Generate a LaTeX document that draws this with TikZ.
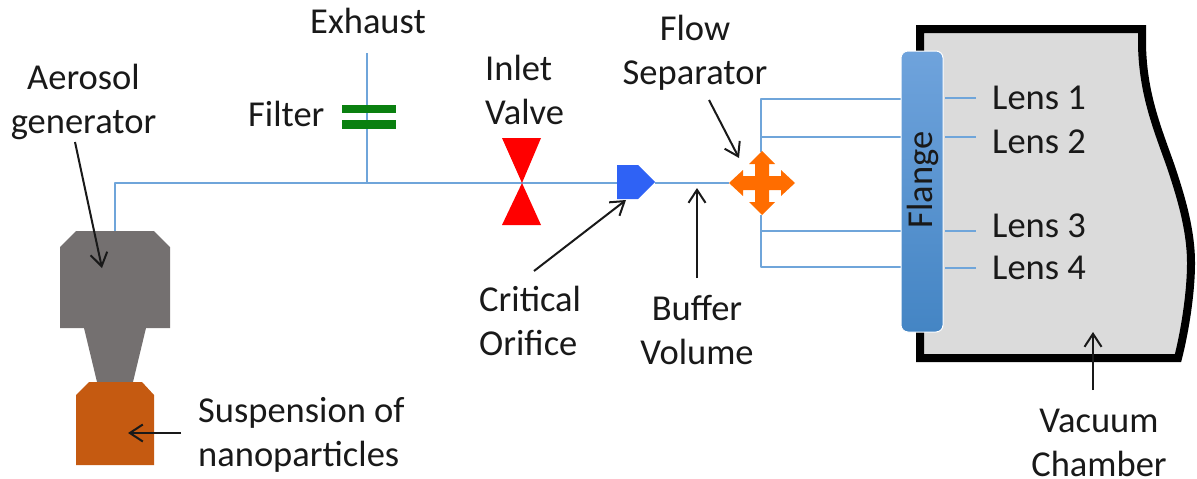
\documentclass[tikz,border=0pt]{standalone}
\usepackage{fontspec}
\setmainfont{Carlito}
\usetikzlibrary{arrows.meta,calc}
\definecolor{pipe}{HTML}{6FA5DA}
\definecolor{grayshape}{HTML}{747070}
\definecolor{brownshape}{HTML}{C55A11}
\definecolor{flangetop}{HTML}{6FA3DC}
\definecolor{flangebot}{HTML}{4485C4}
\definecolor{chamberfill}{HTML}{DBDBDB}
\definecolor{orificeblue}{HTML}{2F62F5}
\definecolor{sepcolor}{HTML}{FF6D00}
\definecolor{filtergreen}{HTML}{0A8010}
\tikzset{
  x=1pt,y=-1pt,
  label/.style={font=\fontsize{36.5}{44}\selectfont,text=black!90,inner sep=0pt,align=center},
  labelleft/.style={label,align=left},
  pipeline/.style={draw=pipe,line width=2.4pt,line join=round},
  pointer/.style={draw=black!90,line width=2pt,-{Straight Barb[length=13pt,width=17pt,line width=2pt]}},
}
\begin{document}
\begin{tikzpicture}
\useasboundingbox (0,0) rectangle (1197,479);
% chamber
\draw[line width=8pt,fill=chamberfill,miter limit=10]
  (920,29) -- (1142,29) -- (1142,45)
  .. controls (1143,95) and (1158,130) .. (1171,167)
  .. controls (1181,197) and (1191,230) .. (1191,263)
  .. controls (1191,295) and (1184,335) .. (1178,358)
  -- (920,358) -- cycle;
% coordinates
\coordinate (genTop) at (115,231);
\coordinate (elbow) at (115,183);
\coordinate (tee) at (367,183);
\coordinate (exhEnd) at (367,53);
\coordinate (orificeIn) at (620,183);
\coordinate (orificeOut) at (655,183);
\coordinate (sepL) at (729,183);
\coordinate (sepTop) at (761,152);
\coordinate (sepBot) at (761,215);
\coordinate (b1) at (761,99);
\coordinate (b2) at (761,137);
\coordinate (b3) at (761,231);
\coordinate (b4) at (761,267);
\coordinate (f1) at (901,99);
\coordinate (f2) at (901,137);
\coordinate (f3) at (901,231);
\coordinate (f4) at (901,267);
\coordinate (g1) at (945,98);
\coordinate (g2) at (945,137);
\coordinate (g3) at (945,231);
\coordinate (g4) at (945,268);
\coordinate (l1) at (976,98);
\coordinate (l2) at (976,137);
\coordinate (l3) at (976,231);
\coordinate (l4) at (976,268);
% pipes
\draw[pipeline] (genTop) -- (elbow) -- (orificeIn);
\draw[pipeline] (exhEnd) -- (tee);
\draw[pipeline] (orificeOut) -- (sepL);
\draw[pipeline] (sepTop) -- (b1) -- (f1);
\draw[pipeline] (b2) -- (f2);
\draw[pipeline] (sepBot) -- (b4) -- (f4);
\draw[pipeline] (b3) -- (f3);
\foreach \i in {1,2,3,4} {\draw[pipeline] (g\i) -- (l\i);}
% generator
\fill[grayshape] (76,231) -- (154,231) -- (170,247) -- (170,328) -- (146,328) -- (133,382) -- (97,382) -- (84,328) -- (60,328) -- (60,247) -- cycle;
\fill[brownshape] (89,382) -- (142,382) -- (154,395) -- (154,465) -- (76,465) -- (76,395) -- cycle;
% filter
\fill[filtergreen] (342,105) rectangle (396,113);
\fill[filtergreen] (342,120) rectangle (396,129);
% valve
\fill[red] (502,138) -- (541,138) -- (522,183) -- (541,225) -- (502,225) -- (522,183) -- cycle;
% orifice
\fill[orificeblue] (617,165) -- (638,165) -- (655,182) -- (638,199) -- (617,199) -- cycle;
% separator
\fill[sepcolor,shift={(762,183)}]
 (0,-32) -- (13,-19) -- (7,-19) -- (7,-7) -- (19,-7) -- (19,-13) -- (33,0) -- (19,13) -- (19,7) -- (7,7) -- (7,19) -- (13,19) -- (0,32) -- (-13,19) -- (-7,19) -- (-7,7) -- (-19,7) -- (-19,13) -- (-33,0) -- (-19,-13) -- (-19,-7) -- (-7,-7) -- (-7,-19) -- (-13,-19) -- cycle;
% flange
\draw[white,line width=1pt,rounded corners=7pt,top color=flangetop,bottom color=flangebot] (901,51) rectangle (943,332);
\node[label,rotate=90] (flange) at (923,180) {Flange};
% labels
\node[label] (exhaust) at (368,21) {Exhaust};
\node[label] (aerosol) at (83.5,102) {Aerosol\\generator};
\node[label,anchor=west] (filter) at (248,114) {Filter};
\node[labelleft,anchor=west] (inlet) at (485,90) {Inlet\\Valve};
\node[label] (flow) at (695,53) {Flow\\Separator};
\node[labelleft,anchor=west] (critical) at (479,321) {Critical\\Orifice};
\node[label] (buffer) at (697,330) {Buffer\\Volume};
\node[labelleft,anchor=west] (suspension) at (198,435) {Suspension of\\nanoparticles};
\node[label,anchor=west] (lensa) at (992,98) {Lens 1};
\node[label,anchor=west] (lensb) at (992,142) {Lens 2};
\node[label,anchor=west] (lensc) at (992,226) {Lens 3};
\node[label,anchor=west] (lensd) at (992,268) {Lens 4};
\node[label] (vacuum) at (1099,443) {Vacuum\\Chamber};
% pointers
\coordinate (pa) at (75,142); \coordinate (pat) at (102,268);
\coordinate (pb) at (181,433); \coordinate (pbt) at (128,433);
\coordinate (pc) at (534,271); \coordinate (pct) at (626,200);
\coordinate (pd) at (697,278); \coordinate (pdt) at (697,188);
\coordinate (pe) at (709,100); \coordinate (pet) at (739,158);
\coordinate (pf) at (1093,390); \coordinate (pft) at (1093,332);
\draw[pointer] (pa) -- (pat);
\draw[pointer] (pb) -- (pbt);
\draw[pointer] (pc) -- (pct);
\draw[pointer] (pd) -- (pdt);
\draw[pointer] (pe) -- (pet);
\draw[pointer] (pf) -- (pft);
\end{tikzpicture}
\end{document}
